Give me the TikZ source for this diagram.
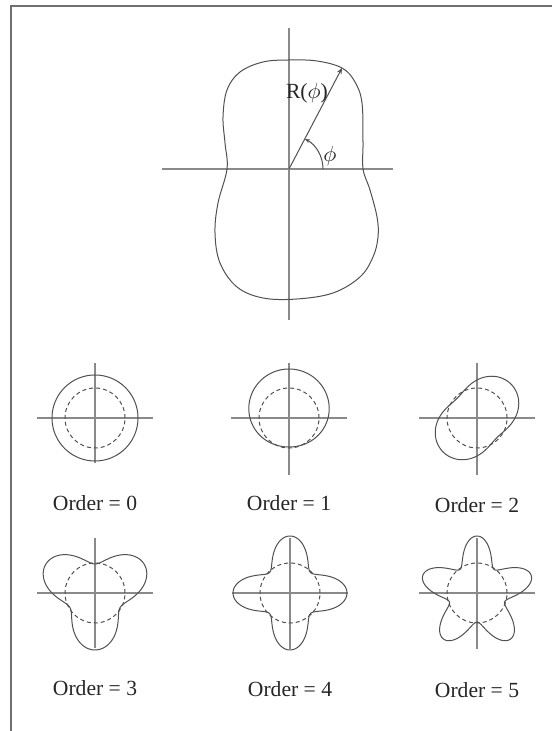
\documentclass[tikz,border=0pt]{standalone}
\usepackage{fontspec}
\setmainfont{Liberation Serif}
\usetikzlibrary{arrows.meta, calc}
\definecolor{phAxis}{HTML}{8A8A8A}
\definecolor{phCurve}{HTML}{505050}
\definecolor{phFrame}{HTML}{707070}
\definecolor{phText}{HTML}{262626}
\tikzset{
  axisline/.style={line width=0.75pt, phAxis},
  shapeline/.style={line width=0.5pt, phCurve},
  refcircle/.style={line width=0.5pt, phCurve, dash pattern=on 2pt off 1.5pt},
  radiusline/.style={line width=0.5pt, phCurve, -{Stealth[length=3pt, width=2.5pt]}},
  anglearc/.style={line width=0.5pt, phCurve, -{Stealth[length=2.5pt, width=2pt]}},
  framebox/.style={line width=1pt, phFrame},
  ordertag/.style={font=\fontsize{10.8}{13}\selectfont, text=phText, inner sep=0pt},
  symtag/.style={font=\fontsize{10.8}{13}\selectfont, text=phText, inner sep=0pt}
}
\begin{document}
\begin{tikzpicture}[x=0.5pt, y=0.5pt]
  \useasboundingbox (0,0) rectangle (552,731);
  \draw[framebox] (552,725) -- (11,725) -- (11,0);

  % deformed nucleus
  \coordinate (O) at (289,562);
  \draw[axisline] ($(O)+(0,141)$) -- ($(O)+(0,-151)$);
  \draw[axisline] ($(O)+(-127,0)$) -- ($(O)+(104,0)$);
  \begin{scope}[shift={(289,562)}]
    \draw[shapeline] plot[smooth cycle, tension=0.6] coordinates {
      (0,109) (28,108) (53,101) (66,87) (73,66) (74,26) (74,0) (81,-21)
      (88,-48) (89,-68) (84,-88) (71,-108) (44,-124) (8,-130) (-26,-129)
      (-52,-118) (-69,-94) (-74,-64) (-71,-34) (-62,0) (-64,26) (-66,52)
      (-62,79) (-49,97) (-26,107)};
  \end{scope}
  \coordinate (Rtip) at ($(O)+(53,101)$);
  \draw[radiusline] (O) -- (Rtip);
  \draw[anglearc] ($(O)+(34,0)$) arc (0:62:34);
  \node[symtag] (rlabel) at ($(O)+(18,76)$) {R($\phi$)};
  \node[symtag] (philabel) at ($(O)+(41,13)$) {$\phi$};

  % multipole orders
  \foreach \n/\cx/\cy/\rz/\amp/\ph/\vb/\ly in {
      0/95/313/43/0/0/45/228, 1/289/313/39/10/90/57/228, 2/477/313/38/10/45/57/226,
      3/95/138/43/14/30/55/43, 4/290/138/43/14/0/56/42, 5/477/138/43/14/90/56/41} {
    \begin{scope}[shift={(\cx,\cy)}]
      \draw[axisline] (0,55) -- (0,-\vb);
      \draw[axisline] (-58,0) -- (58,0);
      \draw[refcircle] (0,0) circle (30);
      \draw[shapeline] plot[domain=0:360, samples=180, smooth]
        (\x:{\rz+\amp*cos(\n*(\x-\ph))});
    \end{scope}
    \node[ordertag] (tag\n) at (\cx,\ly) {Order = \n};
  }
\end{tikzpicture}
\end{document}
